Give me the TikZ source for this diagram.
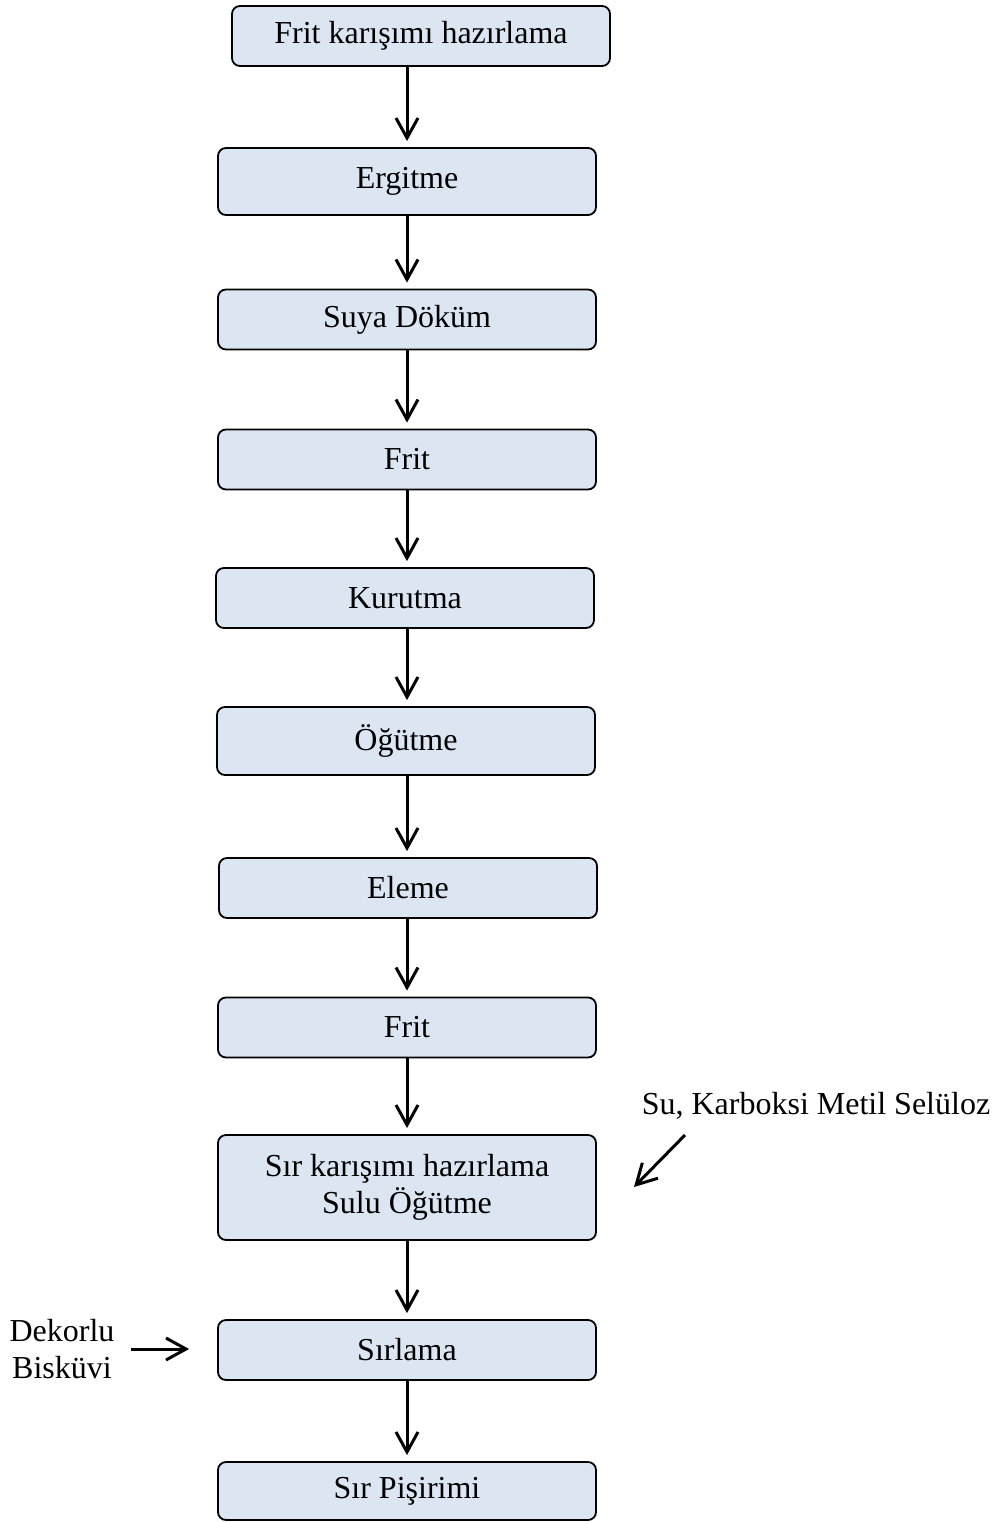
\documentclass[tikz,border=0pt]{standalone}
\usepackage{fontspec}
\setmainfont{Liberation Serif}
\usetikzlibrary{arrows.meta}
\definecolor{boxblue}{HTML}{DCE6F2}

\begin{document}
\begin{tikzpicture}[x=0.5pt, y=-0.5pt, line width=1.5pt, arrows={-Straight Barb[length=10pt,width=11pt]},
	box/.style={draw, fill=boxblue, rounded corners=4pt, line width=0.9pt, minimum width=189pt, minimum height=30pt, align=center, font=\fontsize{16}{18.5}\selectfont},
	lbl/.style={align=center, font=\fontsize{16}{18.5}\selectfont}]
	\useasboundingbox (0,0) rectangle (998,1522);

	\node[box] (FK) at (421,36) {Frit karışımı hazırlama};
	\node[box, minimum height=33.5pt] (E) at (407,181.5) {Ergitme};
	\node[box] (SD) at (407,319.5) {Suya Döküm};
	\node[box] (F1) at (407,459.5) {Frit};
	\node[box] (K) at (405,598) {Kurutma};
	\node[box, minimum height=34pt] (O) at (406,741) {Öğütme};
	\node[box] (EL) at (408,888) {Eleme};
	\node[box] (F2) at (407,1027.5) {Frit};
	\node[box, minimum height=52.5pt] (SK) at (407,1187.5) {Sır karışımı hazırlama\\Sulu Öğütme};
	\node[box] (S) at (407,1350) {Sırlama};
	\node[box, minimum height=29pt] (SP) at (407,1491) {Sır Pişirimi};

	\node[lbl] (SU) at (816,1106) {Su, Karboksi Metil Selüloz};
	\node[lbl] (DB) at (62,1349) {Dekorlu\\Bisküvi};
	\coordinate (SUa) at (685,1135);
	\coordinate (SUb) at (634,1187);

	\draw[shorten >=3pt] (FK.south -| E.north) -- (E.north);
	\draw[shorten >=3pt] (E.south) -- (SD.north);
	\draw[shorten >=3pt] (SD.south) -- (F1.north);
	\draw[shorten >=3pt] (F1.south) -- (F1.south |- K.north);
	\draw[shorten >=3pt] (K.south -| F1.south) -- (F1.south |- O.north);
	\draw[shorten >=3pt] (O.south -| F1.south) -- (F1.south |- EL.north);
	\draw[shorten >=3pt] (EL.south -| F2.north) -- (F2.north);
	\draw[shorten >=3pt] (F2.south) -- (SK.north);
	\draw[shorten >=3pt] (SK.south) -- (S.north);
	\draw[shorten >=3pt] (S.south) -- (SP.north);
	\draw (SUa) -- (SUb);
	\draw[shorten <=4pt, shorten >=14pt] (DB.east) -- (DB.east -| S.west);
\end{tikzpicture}
\end{document}
